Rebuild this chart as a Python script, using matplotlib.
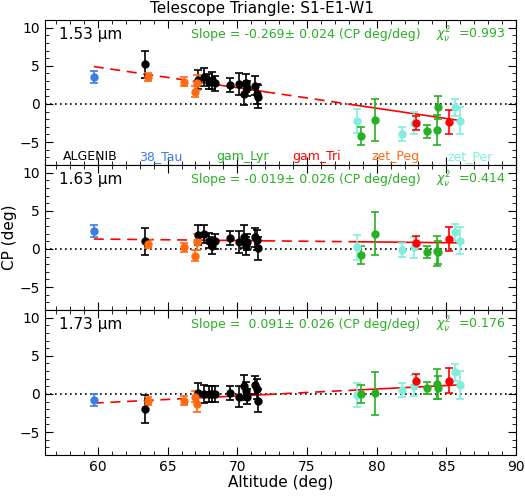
import matplotlib.pyplot as plt
from matplotlib.ticker import MultipleLocator

# star groups: altitude (deg), CP per band, CP errors per band
colors = {"ALGENIB": "black", "38_Tau": "#3b7de0", "gam_Lyr": "#27b022",
          "gam_Tri": "#ff0000", "zet_Peg": "#ff6a10", "zet_Per": "#80eedc"}

alt = {
    "38_Tau": [59.7],
    "ALGENIB": [63.4, 67.2, 67.6, 68.0, 68.2, 68.4, 69.5, 70.1, 70.5, 70.6, 70.7, 71.3, 71.4, 71.5],
    "zet_Peg": [63.6, 66.2, 67.0, 67.1],
    "zet_Per": [78.6, 81.8, 82.7, 85.6, 86.0],
    "gam_Lyr": [78.85, 79.9, 83.6, 84.3, 84.4],
    "gam_Tri": [82.8, 85.2],
}
cp153 = {
    "38_Tau": [3.5],
    "ALGENIB": [5.2, 3.2, 3.5, 2.9, 3.1, 2.7, 2.5, 2.6, 1.3, 2.7, 2.05, 2.4, 1.3, 0.97],
    "zet_Peg": [3.5, 2.9, 1.6, 2.8],
    "zet_Per": [-2.2, -3.9, -2.5, -0.45, -2.2],
    "gam_Lyr": [-4.2, -2.1, -3.6, -3.4, -0.45],
    "gam_Tri": [-2.5, -2.4],
}
cp163 = {
    "38_Tau": [2.3],
    "ALGENIB": [1.0, 1.8, 2.0, 1.1, 0.4, 1.0, 1.4, 0.9, 1.6, 0.4, 0.9, 1.5, 1.2, 0.1],
    "zet_Peg": [0.65, 0.2, -0.9, 0.9],
    "zet_Per": [0.2, -0.1, 0.2, 2.2, 1.1],
    "gam_Lyr": [-0.75, 2.0, -0.45, -0.3, -0.45],
    "gam_Tri": [0.83, 1.3],
}
cp173 = {
    "38_Tau": [-0.75],
    "ALGENIB": [-2.0, 0.1, 0.0, 0.0, 0.0, 0.0, 0.13, -0.35, 1.0, 0.4, -0.35, 1.2, 0.6, -0.9],
    "zet_Peg": [-0.9, -0.9, -0.35, -1.3],
    "zet_Per": [-0.1, 0.5, 1.1, 2.85, 1.2],
    "gam_Lyr": [0.0, 0.1, 0.8, 1.3, 0.8],
    "gam_Tri": [1.75, 1.75],
}
err = {
    "38_Tau": [0.8],
    "ALGENIB": [1.8, 1.3, 1.2, 1.0, 1.1, 1.0, 0.9, 1.4, 1.5, 1.2, 1.0, 1.2, 1.3, 1.5],
    "zet_Peg": [0.5, 0.6, 0.7, 1.0],
    "zet_Per": [1.6, 0.9, 1.4, 1.1, 1.8],
    "gam_Lyr": [1.2, 2.8, 0.8, 2.0, 1.5],
    "gam_Tri": [0.9, 1.6],
}
bands = ["1.53 µm", "1.63 µm", "1.73 µm"]
cps = [cp153, cp163, cp173]
slopes = [-0.269, -0.019, 0.091]
slope_err = [0.024, 0.026, 0.026]
cp_at_start = [4.9, 1.3, -1.2]
chi2 = [0.993, 0.414, 0.176]
fit_start, fit_end = 59.7, 86.0
order = ["ALGENIB", "38_Tau", "gam_Lyr", "gam_Tri", "zet_Peg", "zet_Per"]
green = colors["gam_Lyr"]

fig = plt.figure(figsize=(5.25, 4.98), dpi=100)
left, width, h = 45 / 525, 471 / 525, 145 / 498
for i in range(3):
    ax = fig.add_axes([left, 1 - (20 + 145 * (i + 1)) / 498, width, h])
    ax.axhline(0, color="black", ls=(0, (1, 2)), lw=1.2)
    # fit line: dashed outside data clusters, solid over them
    segs = [(fit_start, 67.0, (0, (6, 4))), (67.0, 72.0, "-"),
            (72.0, 78.5, (0, (6, 4))), (78.5, fit_end, "-")]
    for a, b, ls in segs:
        ya = cp_at_start[i] + slopes[i] * (a - fit_start)
        yb = cp_at_start[i] + slopes[i] * (b - fit_start)
        ax.plot([a, b], [ya, yb], color="red", ls=ls, lw=1.2)
    for name in ["zet_Per", "38_Tau", "ALGENIB", "zet_Peg", "gam_Lyr", "gam_Tri"]:
        ax.errorbar(alt[name], cps[i][name], yerr=err[name], fmt="o", ms=5,
                    color=colors[name], ecolor=colors[name], elinewidth=1.2,
                    capsize=3, capthick=1.2)
    ax.set_xlim(56.2, 90)
    ax.set_ylim(-8, 11)
    ax.set_yticks([-5, 0, 5, 10])
    ax.xaxis.set_major_locator(MultipleLocator(5))
    ax.xaxis.set_minor_locator(MultipleLocator(1))
    ax.yaxis.set_minor_locator(MultipleLocator(1))
    ax.tick_params(which="both", direction="in", top=True, right=True, labelsize=10)
    ax.tick_params(which="major", length=6)
    ax.tick_params(which="minor", length=3)
    if i < 2:
        ax.tick_params(labelbottom=False)
    ax.text(0.03, 0.9, bands[i], transform=ax.transAxes, fontsize=11, va="center")
    ax.text(0.31, 0.9, f"Slope = {slopes[i]:6.3f}± {slope_err[i]:.3f} (CP deg/deg)",
            transform=ax.transAxes, fontsize=9, color=green, va="center")
    ax.text(0.83, 0.9, r"$\chi^2_\nu$  " + f"={chi2[i]:.3f}",
            transform=ax.transAxes, fontsize=9, color=green, va="center")
    if i == 0:
        xs = [0.038, 0.199, 0.364, 0.526, 0.694, 0.855]
        for x, name in zip(xs, order):
            ax.text(x, 0.06, name, transform=ax.transAxes, fontsize=9,
                    color=colors[name], va="center")
    if i == 1:
        ax.set_ylabel("CP (deg)", fontsize=11, labelpad=2)
    if i == 2:
        ax.set_xlabel("Altitude (deg)", fontsize=11, labelpad=1)

fig.suptitle("Telescope Triangle: S1-E1-W1", y=0.998, fontsize=11)
fig.savefig("out.png", dpi=100)
